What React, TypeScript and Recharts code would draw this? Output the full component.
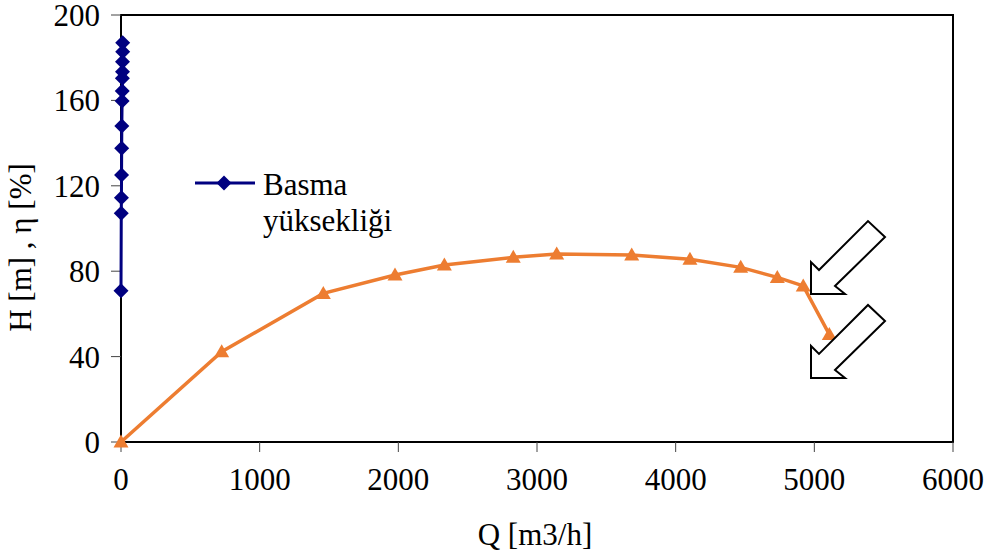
import React from 'react';
import { LineChart, Line, XAxis, YAxis, Legend, ReferenceArea, ReferenceDot, Label } from 'recharts';

const xTicks = [0, 1000, 2000, 3000, 4000, 5000, 6000];
const yTicks = [0, 40, 80, 120, 160, 200];

const headQ = [12, 12, 11, 11, 10, 9, 8, 6, 5, 4, 3, 2, 0];
const headH = [187.0, 182.8, 178.1, 173.4, 170.4, 164.4, 159.7, 148.0, 137.6, 125.1, 114.4, 107.1, 70.9];

const effQ = [0, 726, 1459, 1976, 2332, 2829, 3142, 3683, 4103, 4469, 4733, 4920, 5108];
const effVal = [0, 42.3, 69.6, 78.2, 82.9, 86.5, 88.1, 87.6, 85.6, 81.8, 77.1, 73.1, 50.4];

const arrowTipQ = [4976, 4976];
const arrowTipY = [69.3, 30.0];

const headData = headQ.map((q, i) => ({ q, v: headH[i] }));
const effData = effQ.map((q, i) => ({ q, v: effVal[i] }));

const BLUE = '#000080';
const ORANGE = '#ED7D31';
const FONT = '"Liberation Serif", "Times New Roman", serif';

const Diamond = (props: any) => {
  const { cx, cy } = props;
  if (cx == null || cy == null) return null;
  const r = 7.5;
  return <polygon points={`${cx},${cy - r} ${cx + r},${cy} ${cx},${cy + r} ${cx - r},${cy}`} fill={BLUE} />;
};

const Triangle = (props: any) => {
  const { cx, cy } = props;
  if (cx == null || cy == null) return null;
  return <polygon points={`${cx},${cy - 7.5} ${cx + 7.5},${cy + 5.5} ${cx - 7.5},${cy + 5.5}`} fill={ORANGE} />;
};

const Arrow = (props: any) => {
  const { cx, cy } = props;
  if (cx == null || cy == null) return null;
  const pts = [[0, 0], [34, 0], [24, -8], [74, -57], [57, -73], [8, -24], [0, -32]]
    .map(([dx, dy]) => `${cx + dx},${cy + dy}`).join(' ');
  return <polygon points={pts} fill="#fff" stroke="#000" strokeWidth={2} strokeLinejoin="miter" />;
};

const XTick = (props: any) => {
  const { x, y, payload } = props;
  return (
    <text x={x} y={y} dy="0.71em" textAnchor="middle" fontSize={31} fill="#000" style={{ fontFamily: FONT }}>
      {payload.value}
    </text>
  );
};

const YTick = (props: any) => {
  const { x, y, payload } = props;
  return (
    <text x={x} y={y} dy="0.355em" textAnchor="end" fontSize={31} fill="#000" style={{ fontFamily: FONT }}>
      {payload.value}
    </text>
  );
};

const renderLegend = (props: any) => {
  const { payload } = props;
  const items = (payload || []).filter((p: any) => p.type !== 'none');
  return (
    <svg width={220} height={85} style={{ overflow: 'visible' }}>
      {items.map((entry: any, i: number) => {
        const words = String(entry.value).split(' ');
        return (
          <g key={i}>
            <line x1={5} y1={23} x2={65} y2={23} stroke={BLUE} strokeWidth={3} />
            <polygon points={`34,15.5 41.5,23 34,30.5 26.5,23`} fill={BLUE} />
            <text x={73} y={35} fontSize={31} fill="#000" style={{ fontFamily: FONT }}>{words[0]}</text>
            <text x={73} y={71} fontSize={31} fill="#000" style={{ fontFamily: FONT }}>{words.slice(1).join(' ')}</text>
          </g>
        );
      })}
    </svg>
  );
};

const YLabel = (props: any) => {
  const vb = props.viewBox || {};
  const cy = vb.y + vb.height / 2 + 19;
  return (
    <text x={30.5} y={cy} transform={`rotate(-90, 30.5, ${cy})`} textAnchor="middle" fontSize={31} fill="#000" style={{ fontFamily: FONT }}>
      H [m] , η [%]
    </text>
  );
};

const XLabel = (props: any) => {
  const vb = props.viewBox || {};
  return (
    <text x={vb.x + vb.width / 2 - 2} y={vb.y + 103} textAnchor="middle" fontSize={31} fill="#000" style={{ fontFamily: FONT }}>
      Q [m3/h]
    </text>
  );
};

export default function App() {
  return (
    <div style={{ position: 'absolute', left: 0, top: 0, background: '#fff' }}>
      <LineChart width={991} height={559} margin={{ top: 15, right: 38, bottom: 0, left: 0 }} style={{ fontFamily: FONT }}>
        <XAxis
          type="number"
          dataKey="q"
          domain={[0, 6000]}
          ticks={xTicks}
          height={117}
          axisLine={{ stroke: '#000', strokeWidth: 2 }}
          tickLine={{ stroke: '#444', strokeWidth: 1 }}
          tickSize={10}
          tickMargin={16}
          tick={<XTick />}
        >
          <Label content={<XLabel />} />
        </XAxis>
        <YAxis
          type="number"
          domain={[0, 200]}
          ticks={yTicks}
          width={121}
          axisLine={{ stroke: '#000', strokeWidth: 2 }}
          tickLine={{ stroke: '#444', strokeWidth: 1 }}
          tickSize={10}
          tickMargin={11}
          tick={<YTick />}
        >
          <Label content={<YLabel />} />
        </YAxis>
        <ReferenceArea x1={0} x2={6000} y1={0} y2={200} fill="none" stroke="#000" strokeWidth={2} fillOpacity={0} />
        <Line
          data={effData}
          dataKey="v"
          name="Verim"
          type="linear"
          stroke={ORANGE}
          strokeWidth={3.5}
          dot={<Triangle />}
          activeDot={false}
          legendType="none"
          isAnimationActive={false}
          zIndex={700}
        />
        <Line
          data={headData}
          dataKey="v"
          name="Basma yüksekliği"
          type="linear"
          stroke={BLUE}
          strokeWidth={3}
          dot={<Diamond />}
          activeDot={false}
          legendType="diamond"
          isAnimationActive={false}
          zIndex={700}
        />
        {arrowTipQ.map((q, i) => (
          <ReferenceDot key={i} x={q} y={arrowTipY[i]} r={1} shape={<Arrow />} zIndex={800} />
        ))}
        <Legend
          layout="vertical"
          align="center"
          verticalAlign="middle"
          content={renderLegend}
          wrapperStyle={{ position: 'absolute', left: 190, top: 160, width: 220, height: 85 }}
        />
      </LineChart>
    </div>
  );
}
